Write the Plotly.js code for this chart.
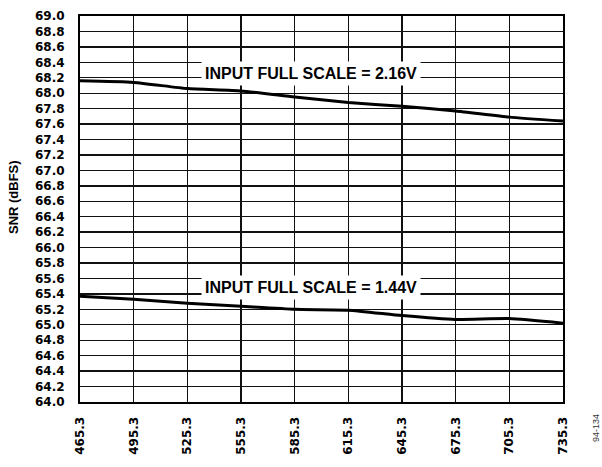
<!DOCTYPE html>
<html>
<head>
<meta charset="utf-8">
<script src="https://cdn.plot.ly/plotly-3.0.1.min.js"></script>
<style>html,body{margin:0;padding:0;background:#fff;}#chart{width:602px;height:467px;}</style>
</head>
<body>
<div id="chart"></div>
<script>
var freqMHz = [465.3, 495.3, 525.3, 555.3, 585.3, 615.3, 645.3, 675.3, 705.3, 735.3];
var xTickText = ["465.3", "495.3", "525.3", "555.3", "585.3", "615.3", "645.3", "675.3", "705.3", "735.3"];
var yTickVals = [64.0, 64.2, 64.4, 64.6, 64.8, 65.0, 65.2, 65.4, 65.6, 65.8, 66.0, 66.2, 66.4, 66.6, 66.8, 67.0, 67.2, 67.4, 67.6, 67.8, 68.0, 68.2, 68.4, 68.6, 68.8, 69.0];
var yTickText = ["64.0", "64.2", "64.4", "64.6", "64.8", "65.0", "65.2", "65.4", "65.6", "65.8", "66.0", "66.2", "66.4", "66.6", "66.8", "67.0", "67.2", "67.4", "67.6", "67.8", "68.0", "68.2", "68.4", "68.6", "68.8", "69.0"];
var snr216V = [68.16, 68.14, 68.06, 68.03, 67.95, 67.88, 67.83, 67.77, 67.69, 67.64];
var snr144V = [65.37, 65.33, 65.28, 65.24, 65.20, 65.19, 65.12, 65.07, 65.08, 65.02];
var label216 = "INPUT FULL SCALE = 2.16V";
var label144 = "INPUT FULL SCALE = 1.44V";
var yTitle = "SNR (dBFS)";
var figNote = "94-134";

function b(s) { return "<b>" + s + "</b>"; }

var lineStyle = {color: "#000", width: 3, shape: "spline", smoothing: 0.5};
var traces = [
  {x: freqMHz, y: snr216V, mode: "lines", line: lineStyle, hoverinfo: "skip"},
  {x: freqMHz, y: snr144V, mode: "lines", line: lineStyle, hoverinfo: "skip"}
];

var tickFont = {family: "DejaVu Sans", size: 12, color: "#000"};
var annFont = {family: "Liberation Sans", size: 16, color: "#000"};

var layout = {
  width: 602, height: 467,
  margin: {l: 80, r: 39, t: 16, b: 65, pad: 0},
  paper_bgcolor: "#fff", plot_bgcolor: "#fff",
  showlegend: false,
  xaxis: {
    range: [465.3, 735.3],
    tickmode: "array", tickvals: freqMHz, ticktext: xTickText.map(b),
    tickangle: -90, tickfont: tickFont,
    ticks: "outside", ticklen: 8, tickcolor: "rgba(0,0,0,0)",
    showgrid: true, gridcolor: "#111", gridwidth: 1.4,
    zeroline: false, showline: true, mirror: true, linecolor: "#000", linewidth: 2
  },
  yaxis: {
    range: [64, 69],
    tickmode: "array", tickvals: yTickVals, ticktext: yTickText.map(b),
    tickfont: tickFont,
    ticks: "outside", ticklen: 11, tickcolor: "rgba(0,0,0,0)",
    showgrid: true, gridcolor: "#111", gridwidth: 1.4,
    zeroline: false, showline: true, mirror: true, linecolor: "#000", linewidth: 2
  },
  annotations: [
    {x: 0, y: 0.531, xref: "paper", yref: "paper", xshift: -67, text: b(yTitle), showarrow: false,
     textangle: -90, font: {family: "Liberation Sans", size: 13, color: "#000"}, xanchor: "center", yanchor: "middle"},
    {x: 594.4, y: 68.25, xref: "x", yref: "y", text: b(label216), showarrow: false,
     font: annFont, bgcolor: "#fff", borderpad: 3, xanchor: "center", yanchor: "middle"},
    {x: 594.4, y: 65.48, xref: "x", yref: "y", text: b(label144), showarrow: false,
     font: annFont, bgcolor: "#fff", borderpad: 3, xanchor: "center", yanchor: "middle"},
    {x: 1, y: 0, xref: "paper", yref: "paper", xshift: 33, yshift: -26, text: figNote, showarrow: false,
     textangle: -90, font: {family: "Liberation Sans", size: 9, color: "#333"}, xanchor: "center", yanchor: "middle"}
  ]
};

Plotly.newPlot("chart", traces, layout, {staticPlot: true, displayModeBar: false});
</script>
</body>
</html>
